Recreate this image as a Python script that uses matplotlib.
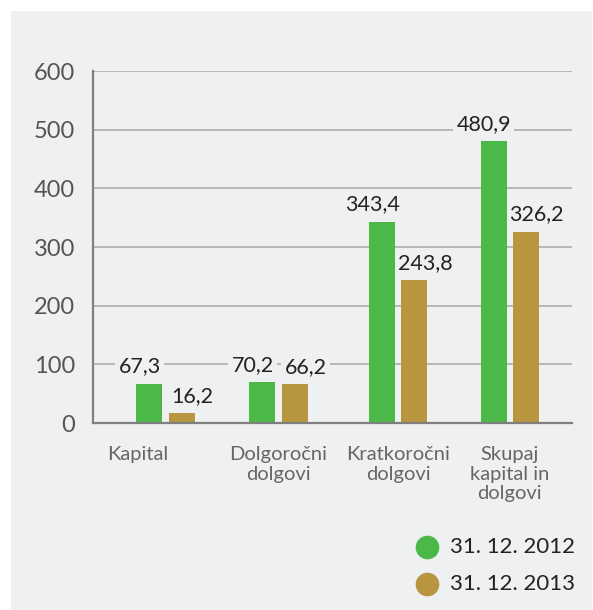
import numpy as np
import matplotlib
matplotlib.use("Agg")
import matplotlib.pyplot as plt
from matplotlib.patches import Rectangle
from matplotlib.lines import Line2D

# data
categories = ["Kapital", "Dolgoročni\ndolgovi", "Kratkoročni\ndolgovi", "Skupaj\nkapital in\ndolgovi"]
values_2012 = [67.3, 70.2, 343.4, 480.9]
values_2013 = [16.2, 66.2, 243.8, 326.2]
series = ["31. 12. 2012", "31. 12. 2013"]
colors = ["#4bb848", "#b8953f"]
yticks = [0, 100, 200, 300, 400, 500, 600]

panel = "#eff0f2"
plt.rcParams["font.family"] = ["Lato", "DejaVu Sans"]

W, H = 593, 610
fig = plt.figure(figsize=(W / 100, H / 100), dpi=100)
fig.patch.set_facecolor("white")
# grey panel behind everything
fig.add_artist(Rectangle((11 / W, 0), (W - 12) / W, (H - 11) / H,
                         transform=fig.transFigure, facecolor=panel,
                         edgecolor="none", zorder=-10))

ax = fig.add_axes([93 / W, 1 - 423 / H, 479 / W, 352 / H])
ax.set_facecolor(panel)
ax.patch.set_alpha(0)

# group centres are not quite evenly spaced in the original
x = np.array([0, 0.985, 2.03, 3.0])
width = 0.227
off = 0.14
b1 = ax.bar(x - off, values_2012, width, color=colors[0], zorder=3)
b2 = ax.bar(x + off, values_2013, width, color=colors[1], zorder=3)

ax.set_xlim(-0.632, 3.544)
ax.set_ylim(0, 600)
ax.set_yticks(yticks)
ax.set_yticklabels([str(t) for t in yticks], fontsize=17, color="#555555")
ax.tick_params(axis="y", length=0, pad=13)
ax.set_xticks([])
ax.grid(axis="y", color="#a8a8a8", linewidth=1.1, zorder=1)
for s in ["top", "right"]:
    ax.spines[s].set_visible(False)
for s in ["left", "bottom"]:
    ax.spines[s].set_color("#7f7f7f")
    ax.spines[s].set_linewidth(1.6)
    ax.spines[s].set_zorder(4)


def fmt(v):
    return f"{v:.1f}".replace(".", ",")


# value labels, boxed in panel colour so they cut the grid lines (bars stay on top)
for bars, vals, dx in [(b1, values_2012, -7), (b2, values_2013, 8)]:
    for bar, v in zip(bars, vals):
        ax.annotate(fmt(v), (bar.get_x() + bar.get_width() / 2, v),
                    xytext=(dx, 8), textcoords="offset points",
                    ha="center", va="baseline", fontsize=15.5, color="#222222",
                    zorder=2,
                    bbox=dict(boxstyle="square,pad=0.15", facecolor=panel,
                              edgecolor="none"))

# category labels below the axis
label_shift = [-0.24, 0, 0.0, 0]
for xi, lab, sh in zip(x, categories, label_shift):
    ax.text(xi + sh, -40, lab, ha="center", va="top", fontsize=14.5,
            color="#666666", linespacing=1.15)

# legend drawn by hand at the bottom right
for i, (name, col) in enumerate(zip(series, colors)):
    yy = 1 - (547 + 37 * i) / H
    fig.add_artist(Line2D([427 / W], [yy], marker="o", markersize=16,
                          color=col, linestyle="none",
                          transform=fig.transFigure))
    fig.text(450 / W, yy, name, ha="left", va="center", fontsize=16,
             color="#222222")

fig.savefig("out.png", dpi=100)
